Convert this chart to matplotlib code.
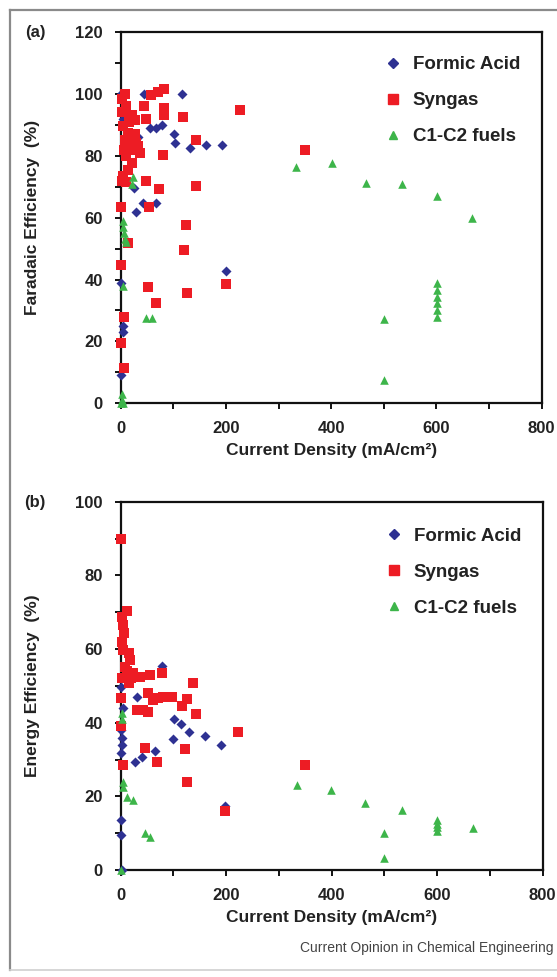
import matplotlib
matplotlib.use("Agg")
import matplotlib.pyplot as plt
from matplotlib.lines import Line2D
import numpy as np

plt.rcParams['font.family'] = ['Liberation Sans', 'DejaVu Sans']

# (a) faradaic efficiency vs current density
fa_formic_x = [0, 4, 33, 45, 116, 55, 67, 79, 101, 103, 131, 162, 192, 26, 29, 42, 67, 201, 0, 4, 4, 0]
fa_formic_y = [100, 92, 86, 100, 100, 89, 89, 90, 87, 84, 82.5, 83.6, 83.5, 69.6, 61.7, 64.7, 64.7, 42.8, 39, 25, 23, 9]

fa_syngas_x = [83, 70, 57, 44, 49, 82, 82, 118, 227, 143, 81, 49, 72, 143, 53, 125, 120, 51, 67, 126, 201, 350,
               0, 0, 6, 0, 6, 13,
               2, 11, 21, 27, 5, 14, 24, 33, 37, 24, 11, 21, 14, 5, 2, 30, 17, 8, 3, 8, 16, 6, 28, 10]
fa_syngas_y = [101.6, 100.5, 99.8, 96.2, 92, 95.5, 93.3, 92.6, 94.7, 85.2, 80.4, 71.7, 69.4, 70.1, 63.6, 57.7, 49.6, 37.5, 32.4, 35.6, 38.5, 82,
               63.6, 44.8, 28, 19.4, 11.3, 51.8,
               98.2, 96, 93.3, 91.7, 89.5, 87.4, 85.2, 83, 80.9, 82, 79.8, 77.7, 75.5, 73.3, 71.7, 84, 84, 85.2, 94, 100, 91, 82, 87, 71.5]

fa_fuels_x = [334, 402, 467, 534, 601, 668, 500, 500, 601, 601, 601, 601, 601, 601, 49, 59,
              24, 21, 5, 5, 6, 8, 10, 5, 2, 3, 5, 1]
fa_fuels_y = [76.4, 77.7, 71.2, 71, 67.1, 59.9, 27.2, 7.6, 38.8, 36.7, 34.5, 32.4, 30.2, 28, 27.5, 27.5,
              73, 71, 59, 57, 55, 53, 52, 38, 3, 1, 0, 0]

# (b) energy efficiency vs current density
ee_formic_x = [78, 30, 101, 114, 130, 160, 191, 100, 27, 40, 65, 198, 0, 0, 2, 2, 0, 0, 2, 5, 0]
ee_formic_y = [55.3, 47.1, 40.9, 39.7, 37.4, 36.4, 34, 35.5, 29.4, 30.8, 32.2, 17.4, 49.8, 31.7, 35.8, 34, 13.6, 9.5, 0, 44, 38]

ee_syngas_x = [0, 11, 2, 4, 6, 2, 5, 15, 18, 11, 24, 37, 56, 78, 138, 15, 0, 30, 43, 52, 52, 62, 71, 81, 97,
               125, 116, 143, 46, 68, 121, 126, 198, 223, 349, 4, 0, 8, 20, 3]
ee_syngas_y = [89.9, 70.2, 68.8, 66.5, 64.3, 62, 59.8, 58.9, 57, 53.9, 53.4, 52.5, 53, 53.4, 50.9, 50.7, 46.6, 43.5, 43.5, 43, 48, 46.2, 46.6, 47.1, 47.1,
               46.4, 44.4, 42.3, 33.1, 29.2, 32.8, 23.8, 16.1, 37.4, 28.4, 28.4, 39, 55, 52, 52]

ee_fuels_x = [334, 399, 464, 533, 499, 499, 600, 600, 600, 600, 667, 46, 56, 5, 11, 24, 2, 3, 0, 4]
ee_fuels_y = [23.1, 21.7, 18.1, 16.3, 10.1, 3.2, 13.6, 12.6, 11.6, 10.6, 11.3, 10.1, 8.9, 22.6, 19.9, 19, 42.6, 41, 0, 24]

series_names = ['Formic Acid', 'Syngas', 'C1-C2 fuels']
colors = ['#2E3192', '#ED1C24', '#3DB54A']
markers = ['D', 's', '^']
msizes = [26, 42, 38]
TXT = '#222222'

W, H = 557, 977
fig = plt.figure(figsize=(W / 100, H / 100), dpi=100)


def px(x0, y0, x1, y1):
    return [x0 / W, 1 - y1 / H, (x1 - x0) / W, (y1 - y0) / H]


def panel(rect, xs, ys, ymax, ylabel, tag, leg_top):
    ax = fig.add_axes(rect)
    for x, y, c, m, s in zip(xs, ys, colors, markers, msizes):
        ax.scatter(x, y, c=c, marker=m, s=s, linewidths=0, zorder=3, clip_on=False)
    ax.set_xlim(0, 800)
    ax.set_ylim(0, ymax)
    ax.set_xticks(np.arange(0, 801, 100))
    ax.set_xticklabels([str(v) if v % 200 == 0 else '' for v in range(0, 801, 100)])
    ax.set_yticks(np.arange(0, ymax + 1, 10))
    ax.set_yticklabels([str(v) if v % 20 == 0 else '' for v in range(0, ymax + 1, 10)])
    for sp in ax.spines.values():
        sp.set_linewidth(1.6)
        sp.set_color('#111111')
    ax.tick_params(direction='out', length=4, width=1.4, color='#111111',
                   labelsize=12, labelcolor=TXT)
    ax.tick_params(axis='y', pad=9)
    ax.tick_params(axis='x', pad=9)
    for lab in ax.get_xticklabels() + ax.get_yticklabels():
        lab.set_fontweight('bold')
    ax.set_xlabel('Current Density (mA/cm²)', fontsize=12.5, fontweight='bold', color=TXT, labelpad=5)
    bb = ax.get_position()
    fig.text(33 / W, bb.y0 + bb.height / 2, ylabel, rotation=90, ha='center', va='center',
             fontsize=12.5, fontweight='bold', color=TXT)
    fig.text(35 / W, bb.y1 - 1 / H, tag, ha='center', va='center',
             fontsize=12, fontweight='bold', color=TXT)
    handles = [Line2D([], [], linestyle='none', marker=m, color=c, markersize=np.sqrt(s))
               for c, m, s in zip(colors, markers, msizes)]
    ax.legend(handles, series_names, loc='upper left', bbox_to_anchor=(0.605, leg_top),
              frameon=False, borderpad=0, handlelength=0.9, handletextpad=0.6,
              labelspacing=1.0, prop={'size': 13.5, 'weight': 'bold'}, labelcolor=TXT)
    return ax


panel(px(120.7, 32, 541.7, 403.3), [fa_formic_x, fa_syngas_x, fa_fuels_x],
      [fa_formic_y, fa_syngas_y, fa_fuels_y], 120, 'Faradaic Efficiency  (%)', '(a)', 0.96)
panel(px(120.7, 501.7, 542.7, 870), [ee_formic_x, ee_syngas_x, ee_fuels_x],
      [ee_formic_y, ee_syngas_y, ee_fuels_y], 100, 'Energy Efficiency  (%)', '(b)', 0.955)

# outer frame
fig.add_artist(Line2D([10 / W, 10 / W], [1 - 970 / H, 1 - 10 / H], color='#8a8a8a', lw=1.6))
fig.add_artist(Line2D([10 / W, 1], [1 - 10 / H, 1 - 10 / H], color='#8a8a8a', lw=1.6))
fig.add_artist(Line2D([10 / W, 1], [1 - 970 / H, 1 - 970 / H], color='#d0d0d0', lw=1.2))

fig.text(553 / W, 1 - 948 / H, 'Current Opinion in Chemical Engineering', ha='right', va='center',
         fontsize=10, color='#444444')

fig.savefig('out.png', dpi=100)
